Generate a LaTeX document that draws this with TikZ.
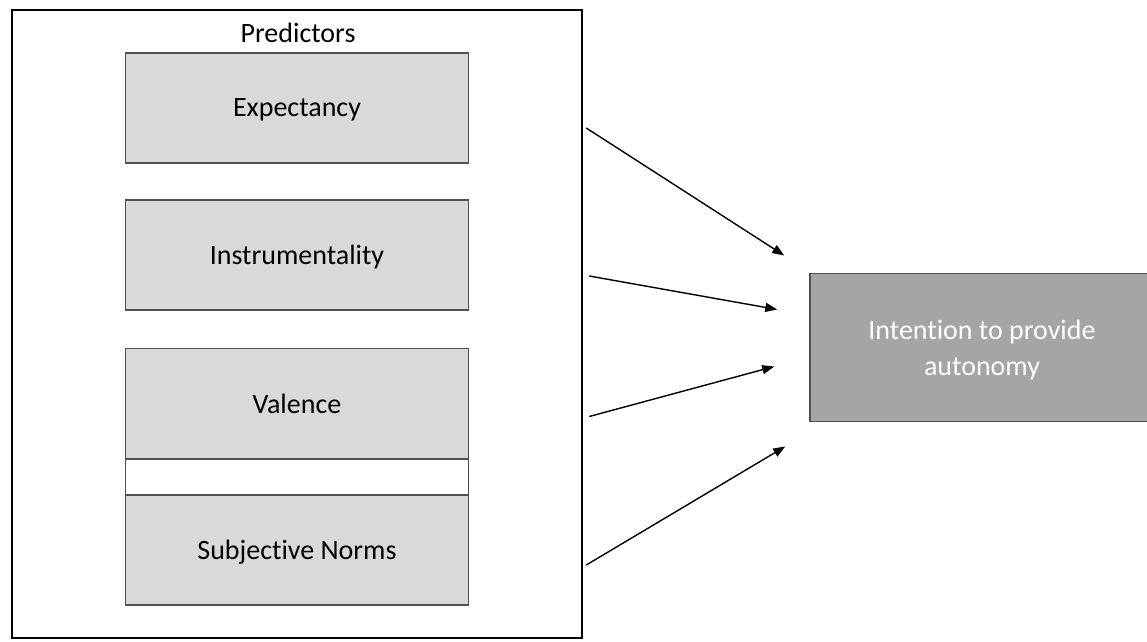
\documentclass[tikz,border=0pt]{standalone}
\usepackage{fontspec}
\setmainfont{Carlito}[Ligatures=NoCommon]
\usetikzlibrary{arrows.meta,calc}
\definecolor{boxgray}{HTML}{D9D9D9}
\definecolor{darkgray}{HTML}{A5A5A5}
\definecolor{edgegray}{HTML}{505050}
\tikzset{
  predbox/.style={draw=edgegray, line width=1.5pt, fill=boxgray, minimum width=343pt,
    minimum height=110pt, inner sep=0pt, text depth=0pt, font=\fontsize{28}{34}\selectfont},
  arr/.style={-{Triangle[length=12pt,width=9pt]}, line width=1.4pt}
}
\begin{document}
\begin{tikzpicture}[x=1pt,y=-1pt]
  \useasboundingbox (0,0) rectangle (1147,641);
  % Outer frame of the predictors
  \node[draw, line width=2.5pt, minimum width=570pt, minimum height=628pt, inner sep=0pt] (outer) at (297,324) {};
  \node[font=\fontsize{28}{34}\selectfont] (title) at (298,33) {Predictors};
  % Predictor boxes
  \node[predbox] (exp) at (297,108) {Expectancy};
  \node[predbox] (inst) at (297,255) {Instrumentality};
  \node[predbox] (val) at (297,403.5) {Valence};
  \node[predbox, fill=white, minimum height=36pt] (gap) at (297,477) {};
  \node[predbox] (norms) at (297,550) {Subjective Norms};
  % Outcome box (runs off the right edge)
  \begin{scope}
    \clip (0,0) rectangle (1147,641);
    \node[draw=edgegray, line width=1.5pt, fill=darkgray, text=white, minimum width=344pt,
      minimum height=148pt, align=center, text depth=0pt, font=\fontsize{28}{36}\selectfont] (intent) at (982,347.5) {Intention to provide\\autonomy};
  \end{scope}
  % Arrows from predictors to the outcome
  \foreach \src/\sx/\sy/\ex/\ey in {
        exp/3/-20/-25/92,
        inst/6/-21/-32/38,
        val/6/-13/-35/-19,
        norms/3/-15/-24/-99
  } {
      \draw[arr] ($(outer.east |- \src.east)+(\sx pt,\sy pt)$) -- ($(intent.west)+(\ex pt,\ey pt)$);
  }
\end{tikzpicture}
\end{document}
